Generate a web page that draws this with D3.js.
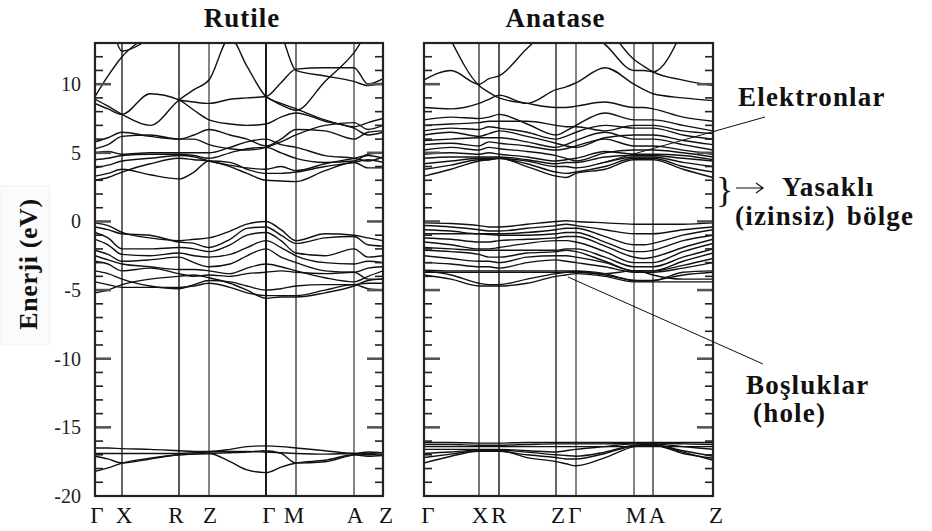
<!DOCTYPE html>
<html><head><meta charset="utf-8">
<script src="https://cdn.jsdelivr.net/npm/d3@7"></script>
<style>body{margin:0;background:#fff;} svg{display:block;}</style>
</head><body><svg id="c" width="932" height="531"></svg>
<script>
// ---------------- DATA ----------------
const energyDomain = [-20, 13];
const yTickLabels = [10, 5, 0, -5, -10, -15, -20];

// Rutile: k-path distances (arbitrary units) and sampled band energies (eV)
const rutileK = [0, 13, 27, 55, 84, 99, 114, 135, 152, 171, 186, 201, 230, 259, 273, 288];
const rutileSymK = [0, 27, 84, 114, 171, 201, 259, 288];
const rutileSymLabels = ["Γ", "X", "R", "Z", "Γ", "M", "A", "Z"];
const rutileUpper = [
  [9.1, 10.6, 12.0, 13.6, 14.5, 14.5, 14.5, 14.5, 14.5, 14.5, 14.5, 14.5, 14.5, 14.5, 14.5, 14.5],
  [14.5, 14.5, 12.4, 13.3, 14.5, 14.5, null, null, null, null, null, null, null, null, null, null],
  [8.9, 8.4, 7.8, 7.0, 8.85, 9.6, 10.3, 13.4, 11.3, 9.1, 8.6, 8.2, 7.4, 6.9, 7.2, 7.5],
  [8.6, 8.2, 7.8, 9.3, 8.85, 8.1, 7.4, 7.1, 7.0, 7.1, 7.6, 7.9, 7.3, 6.8, 6.3, 6.5],
  [null, null, null, null, 8.85, 8.7, 8.6, 8.9, 9.0, 9.1, 10.1, 11.1, 11.2, 11.2, 10.0, 10.4],
  [null, null, null, null, null, null, null, null, null, 9.1, 8.5, 8.1, 10.2, 12.3, 13.8, 14.5],
  [null, null, null, null, null, null, null, null, null, 14.5, 13.6, 11.0, 10.6, 10.2, 9.9, 10.1]
];
const rutileLowerCB = [
  [3.0, 3.2, 3.6, 4.2, 4.6, 4.5, 4.4, 4.0, 3.5, 3.0, 2.95, 2.9, 3.7, 4.3, 3.9, 3.9],
  [3.3, 3.5, 3.8, 3.4, 3.1, 3.6, 4.4, 4.3, 3.8, 3.5, 3.5, 3.6, 4.0, 4.3, 4.5, 4.3],
  [3.9, 4.1, 4.4, 4.6, 4.8, 4.7, 4.4, 4.1, 3.9, 3.8, 4.0, 3.7, 4.2, 4.6, 4.8, 4.6],
  [4.5, 4.6, 4.8, 4.9, 4.9, 4.8, 4.6, 5.0, 5.3, 5.4, 5.0, 4.6, 4.3, 4.4, 4.9, 5.0],
  [5.0, 5.1, 4.9, 5.0, 5.0, 5.0, 5.0, 5.4, 5.8, 6.0, 5.6, 5.4, 4.8, 4.6, 4.4, 4.7],
  [5.3, 5.6, 6.2, 6.3, 6.0, 6.3, 6.7, 6.3, 6.0, 5.5, 6.0, 6.7, 6.6, 6.0, 6.5, 6.6],
  [5.8, 6.1, 6.5, 6.2, 6.0, 6.0, 5.6, 5.3, 5.2, 5.4, 5.8, 6.3, 7.0, 7.2, 6.7, 7.0]
];
const rutileVB = [
  [-0.1, -0.3, -0.8, -1.2, -1.4, -1.3, -1.2, -0.7, -0.2, 0.0, -0.6, -1.4, -0.9, -1.0, -1.2, -1.4],
  [-0.4, -0.6, -0.9, -1.0, -1.5, -1.6, -1.9, -1.3, -0.5, -0.4, -1.0, -1.6, -1.2, -1.1, -1.7, -1.8],
  [-0.8, -1.2, -2.0, -2.0, -1.9, -2.0, -2.2, -1.7, -1.0, -0.8, -1.4, -2.3, -2.5, -2.0, -2.6, -2.5],
  [-1.3, -1.7, -2.4, -2.5, -2.3, -2.5, -2.6, -2.4, -1.9, -1.4, -1.9, -2.5, -3.0, -3.1, -2.9, -3.0],
  [-2.1, -2.4, -2.9, -2.8, -2.6, -3.0, -3.3, -3.1, -2.5, -2.0, -2.6, -3.0, -3.6, -3.7, -3.4, -3.3],
  [-2.5, -2.8, -3.1, -3.3, -3.5, -3.5, -3.6, -3.8, -3.4, -3.1, -3.3, -3.6, -4.1, -4.4, -4.0, -3.6],
  [-2.9, -3.1, -3.6, -3.4, -3.8, -4.0, -3.9, -4.0, -3.8, -3.7, -3.6, -3.7, -3.8, -3.7, -4.2, -4.2],
  [-3.6, -3.8, -4.2, -4.7, -4.9, -4.6, -4.3, -4.4, -4.7, -5.0, -4.9, -4.7, -4.6, -4.6, -4.5, -4.5],
  [-4.4, -4.6, -4.8, -4.8, -4.8, -4.7, -4.5, -4.8, -5.2, -5.4, -5.4, -5.4, -5.0, -4.6, -4.9, -5.0],
  [-5.2, -5.0, -4.6, -4.2, -4.0, -3.9, -4.1, -4.5, -5.0, -5.6, -5.5, -5.5, -5.2, -4.7, -4.3, -4.2]
];
const rutileO2s = [
  [-16.5, -16.5, -16.55, -16.6, -16.7, -16.75, -16.75, -16.6, -16.4, -16.35, -16.4, -16.5, -16.7, -16.9, -16.8, -16.85],
  [-16.9, -16.9, -16.9, -16.9, -16.9, -16.85, -16.8, -16.75, -16.75, -16.8, -16.85, -16.9, -16.95, -16.9, -17.0, -16.95],
  [-17.1, -17.3, -17.6, -17.3, -17.0, -16.95, -16.9, -17.5, -18.1, -18.3, -17.9, -17.6, -17.4, -17.0, -17.1, -17.05],
  [-18.2, -17.95, -17.6, -17.25, -17.0, -16.95, -16.9, -16.85, -16.8, -16.7, -16.9, -17.6, -17.5, -17.0, -16.9, -17.0]
];

// Anatase
const anataseK = [0, 27, 55, 65, 75, 103, 132, 142, 152, 181, 210, 220, 229, 259, 289];
const anataseSymK = [0, 55, 75, 132, 152, 210, 229, 289];
const anataseSymLabels = ["Γ", "X", "R", "Z", "Γ", "M", "A", "Z"];
const anataseUpper = [
  [null, 13.2, 9.9, 9.4, 9.0, 8.6, 8.3, 8.3, 8.4, 8.7, 8.3, 8.3, 8.2, 7.6, 7.3],
  [10.3, 11.0, 10.0, 10.4, 10.6, 12.6, 14.5, null, null, null, null, null, null, null, null],
  [8.3, 8.2, 8.6, 8.9, 9.2, 8.6, 9.6, 9.8, 10.1, 11.2, 10.0, 9.6, 9.3, 9.0, 8.8],
  [null, null, null, null, null, null, null, null, 14.5, 12.9, 11.0, 11.0, 10.9, 14.0, null],
  [null, null, null, null, null, null, null, null, null, 14.5, 11.8, 11.3, 10.9, 10.3, 9.9]
];
const anataseCB = [
  [7.4, 7.6, 7.5, 7.6, 7.8, 7.1, 6.3, 6.6, 7.0, 7.9, 7.4, 7.4, 7.4, 7.0, 6.6],
  [7.0, 7.1, 7.2, 7.3, 7.3, 7.3, 7.0, 6.9, 6.9, 6.6, 7.0, 7.0, 7.0, 6.6, 6.4],
  [6.6, 6.8, 6.7, 6.9, 6.8, 6.5, 6.0, 6.2, 6.5, 7.0, 6.8, 6.8, 6.8, 6.3, 6.0],
  [6.3, 6.5, 6.2, 6.4, 6.6, 6.2, 5.7, 5.5, 5.4, 6.1, 6.3, 6.3, 6.3, 5.9, 5.6],
  [5.9, 6.0, 6.1, 6.1, 6.1, 5.8, 5.4, 5.6, 5.9, 6.5, 6.0, 6.0, 6.0, 5.6, 5.2],
  [5.6, 5.7, 5.5, 5.8, 5.7, 5.5, 5.2, 5.3, 5.5, 6.0, 5.5, 5.5, 5.5, 5.2, 4.9],
  [5.2, 5.4, 5.2, 5.4, 5.3, 5.1, 4.8, 4.6, 4.4, 5.0, 5.2, 5.2, 5.2, 5.0, 4.7],
  [4.9, 5.0, 4.9, 5.0, 4.9, 4.7, 4.4, 4.5, 4.6, 5.1, 4.9, 4.9, 4.9, 4.8, 4.5],
  [4.6, 4.7, 4.7, 4.7, 4.7, 4.5, 4.2, 4.3, 4.3, 4.7, 4.8, 4.8, 4.8, 4.6, 4.4],
  [4.2, 4.4, 4.6, 4.6, 4.6, 4.4, 4.0, 4.0, 3.9, 4.3, 4.7, 4.7, 4.7, 4.3, 4.0],
  [3.8, 4.1, 4.5, 4.5, 4.6, 4.2, 3.6, 3.5, 3.6, 4.0, 4.6, 4.6, 4.6, 4.0, 3.6],
  [3.3, 3.8, 4.4, 4.5, 4.6, 4.0, 3.3, 3.2, 3.5, 3.8, 4.5, 4.5, 4.5, 3.8, 3.2]
];
const anataseVB = [
  [-0.1, -0.15, -0.3, -0.4, -0.4, -0.2, 0.0, 0.05, 0.0, -0.1, -0.2, -0.2, -0.2, -0.2, -0.1],
  [-0.3, -0.4, -0.6, -0.7, -0.7, -0.5, -0.3, -0.2, -0.3, -0.6, -0.9, -0.9, -0.9, -0.6, -0.4],
  [-0.6, -0.7, -0.9, -0.9, -0.9, -0.8, -0.6, -0.5, -0.5, -1.1, -1.7, -1.7, -1.6, -1.0, -0.6],
  [-0.9, -0.9, -0.9, -0.95, -1.0, -1.0, -0.9, -0.8, -0.8, -1.5, -2.2, -2.2, -2.1, -1.4, -1.0],
  [-1.2, -1.3, -1.5, -1.5, -1.4, -1.3, -1.2, -1.1, -1.1, -1.8, -2.6, -2.7, -2.6, -1.9, -1.3],
  [-1.5, -1.7, -2.0, -2.0, -1.9, -1.6, -1.4, -1.4, -1.5, -2.2, -3.0, -3.0, -3.0, -2.2, -1.6],
  [-1.9, -2.0, -2.1, -2.1, -2.1, -2.1, -2.1, -2.0, -2.0, -2.6, -3.3, -3.3, -3.3, -2.6, -2.0],
  [-2.1, -2.2, -2.4, -2.6, -2.6, -2.3, -2.2, -2.1, -2.2, -2.9, -3.6, -3.6, -3.6, -2.9, -2.3],
  [-2.5, -2.7, -2.9, -2.9, -3.0, -2.6, -2.5, -2.5, -2.6, -3.0, -3.6, -3.6, -3.6, -3.2, -2.7],
  [-3.0, -3.1, -3.3, -3.3, -3.4, -3.0, -2.8, -2.9, -3.0, -3.3, -3.7, -3.7, -3.7, -3.4, -3.0],
  [-3.55, -3.6, -3.6, -3.6, -3.6, -3.6, -3.6, -3.6, -3.6, -3.8, -4.3, -4.3, -4.3, -3.7, -3.6],
  [-3.7, -3.7, -3.7, -3.7, -3.7, -3.7, -3.7, -3.7, -3.7, -3.9, -4.3, -4.35, -4.3, -3.9, -3.7],
  [-3.6, -3.9, -4.5, -4.6, -4.6, -4.2, -3.8, -3.7, -3.65, -3.8, -3.6, -3.7, -3.9, -4.2, -4.2],
  [-3.9, -4.2, -4.7, -4.7, -4.7, -4.5, -4.0, -3.9, -3.8, -4.0, -4.4, -4.4, -4.4, -4.4, -4.4]
];
const anataseO2s = [
  [-16.1, -16.1, -16.15, -16.15, -16.15, -16.1, -16.1, -16.1, -16.1, -16.1, -16.1, -16.1, -16.1, -16.1, -16.1],
  [-16.25, -16.25, -16.3, -16.3, -16.3, -16.25, -16.2, -16.2, -16.2, -16.2, -16.15, -16.15, -16.15, -16.2, -16.25],
  [-16.4, -16.4, -16.4, -16.4, -16.4, -16.4, -16.4, -16.4, -16.4, -16.4, -16.4, -16.4, -16.4, -16.4, -16.4],
  [-16.6, -16.6, -16.6, -16.6, -16.6, -16.7, -16.8, -16.7, -16.6, -16.4, -16.2, -16.2, -16.2, -16.4, -16.6],
  [-16.9, -16.8, -16.65, -16.65, -16.65, -16.8, -17.0, -17.05, -17.1, -16.8, -16.3, -16.25, -16.25, -16.7, -17.1],
  [-17.2, -16.95, -16.7, -16.7, -16.7, -17.2, -17.5, -17.65, -17.8, -17.2, -16.4, -16.3, -16.3, -16.8, -17.4],
  [-17.6, -17.1, -16.75, -16.75, -16.75, -17.0, -17.2, -17.3, -17.3, -16.9, -16.35, -16.3, -16.3, -16.9, -17.25]
];

const titles = ["Rutile", "Anatase"];
const yAxisTitle = "Enerji (eV)";

// ---------------- DRAW ----------------
const svg = d3.select("#c");
const FONT = "'Liberation Serif', 'Times New Roman', serif";
const y = d3.scaleLinear().domain(energyDomain).range([496, 43]);

const panels = [
  { title: titles[0], k: rutileK, symK: rutileSymK, sym: rutileSymLabels,
    bands: [...rutileUpper, ...rutileLowerCB, ...rutileVB, ...rutileO2s],
    x0: 95, x1: 383, labelDx: [2, 2, -3, 1, 3, -2, 1, 3], yLabels: true,
    vColors: ["#000", "#555", "#444", "#777", "#000", "#666", "#777", "#000"] },
  { title: titles[1], k: anataseK, symK: anataseSymK, sym: anataseSymLabels,
    bands: [...anataseUpper, ...anataseCB, ...anataseVB, ...anataseO2s],
    x0: 424, x1: 713, labelDx: [4, 1, 0, 2, -1, 2, 4, 3], yLabels: false,
    vColors: ["#000", "#666", "#444", "#555", "#777", "#777", "#666", "#000"] }
];

panels.forEach((p, pi) => {
  const x = d3.scaleLinear().domain([0, d3.max(p.k)]).range([p.x0, p.x1]);
  const g = svg.append("g");
  const clipId = "clip" + pi;
  svg.append("clipPath").attr("id", clipId).append("rect")
    .attr("x", p.x0).attr("y", y(energyDomain[1])).attr("width", p.x1 - p.x0)
    .attr("height", y(energyDomain[0]) - y(energyDomain[1]));

  g.selectAll("line.sym").data(p.symK.slice(1, -1)).join("line")
    .attr("x1", d => x(d)).attr("x2", d => x(d))
    .attr("y1", y(energyDomain[1])).attr("y2", y(energyDomain[0]))
    .attr("stroke", (d, i) => p.vColors[i + 1]).attr("stroke-width", 1.8);

  const line = d3.line()
    .defined(d => d[1] !== null)
    .x(d => x(d[0])).y(d => y(d[1]))
    .curve(d3.curveMonotoneX);
  g.append("g").attr("clip-path", `url(#${clipId})`)
    .selectAll("path").data(p.bands).join("path")
    .attr("d", b => line(b.map((e, i) => [p.k[i], e])))
    .attr("fill", "none").attr("stroke", "#111").attr("stroke-width", 1.4);

  const ticks = d3.range(energyDomain[0] + 1, energyDomain[1], 1);
  [p.x0, p.x1].forEach((xe, side) => {
    const dir = side === 0 ? 1 : -1;
    g.selectAll(null).data(ticks).join("line")
      .attr("x1", xe).attr("x2", d => xe + dir * (d % 5 === 0 ? 16 : 8))
      .attr("y1", d => y(d)).attr("y2", d => y(d))
      .attr("stroke", d => d % 5 === 0 ? "#555" : "#222")
      .attr("stroke-width", d => d % 5 === 0 ? 2.6 : 1.6);
  });

  g.append("rect").attr("x", p.x0).attr("y", y(energyDomain[1]))
    .attr("width", p.x1 - p.x0).attr("height", y(energyDomain[0]) - y(energyDomain[1]))
    .attr("fill", "none").attr("stroke", "#222").attr("stroke-width", 2.2);

  g.selectAll("text.k").data(p.sym).join("text")
    .attr("x", (d, i) => x(p.symK[i]) + p.labelDx[i]).attr("y", 523)
    .attr("text-anchor", "middle").attr("font-family", FONT).attr("font-size", 23)
    .attr("fill", "#111").text(d => d);

  svg.append("text").attr("x", (p.x0 + p.x1) / 2 + (pi === 0 ? 3 : -13)).attr("y", 27)
    .attr("text-anchor", "middle").attr("font-family", FONT).attr("font-weight", "bold")
    .attr("font-size", 27).attr("letter-spacing", 1).attr("fill", "#111").text(p.title);

  if (p.yLabels) {
    g.selectAll("text.yl").data(yTickLabels).join("text")
      .attr("x", 81).attr("y", d => y(d) + 7)
      .attr("text-anchor", "end").attr("font-family", FONT).attr("font-size", 20)
      .attr("fill", "#222").text(d => d);
  }
});

svg.append("rect").attr("x", 0).attr("y", 186).attr("width", 50).attr("height", 158)
  .attr("fill", "#fbfbfb").attr("stroke", "#f2f2f2");
svg.append("text").attr("transform", "translate(37,264) rotate(-90)")
  .attr("text-anchor", "middle").attr("font-family", FONT).attr("font-weight", "bold")
  .attr("font-size", 26).attr("letter-spacing", 0.6).attr("fill", "#111").text(yAxisTitle);

const annot = svg.append("g").attr("font-family", FONT).attr("font-weight", "bold")
  .attr("font-size", 27).attr("letter-spacing", 1.2).attr("fill", "#111");
annot.append("text").attr("x", 738).attr("y", 106).text("Elektronlar");
annot.append("text").attr("x", 782).attr("y", 196).text("Yasaklı");
annot.append("text").attr("x", 735).attr("y", 225).attr("word-spacing", 3).text("(izinsiz) bölge");
annot.append("text").attr("x", 746).attr("y", 394).text("Boşluklar");
annot.append("text").attr("x", 753).attr("y", 422).text("(hole)");

svg.append("line").attr("x1", 765).attr("y1", 117).attr("x2", 598).attr("y2", 164)
  .attr("stroke", "#111").attr("stroke-width", 1);
svg.append("line").attr("x1", 568).attr("y1", 277).attr("x2", 763).attr("y2", 364)
  .attr("stroke", "#111").attr("stroke-width", 1);

svg.append("text").attr("x", 716).attr("y", 202).attr("font-family", FONT)
  .attr("font-size", 36).attr("fill", "#111").text("}");
svg.append("path").attr("d", "M736,188 H762 M756,183 L763,188 L756,193")
  .attr("fill", "none").attr("stroke", "#111").attr("stroke-width", 1.2);
</script></body></html>
